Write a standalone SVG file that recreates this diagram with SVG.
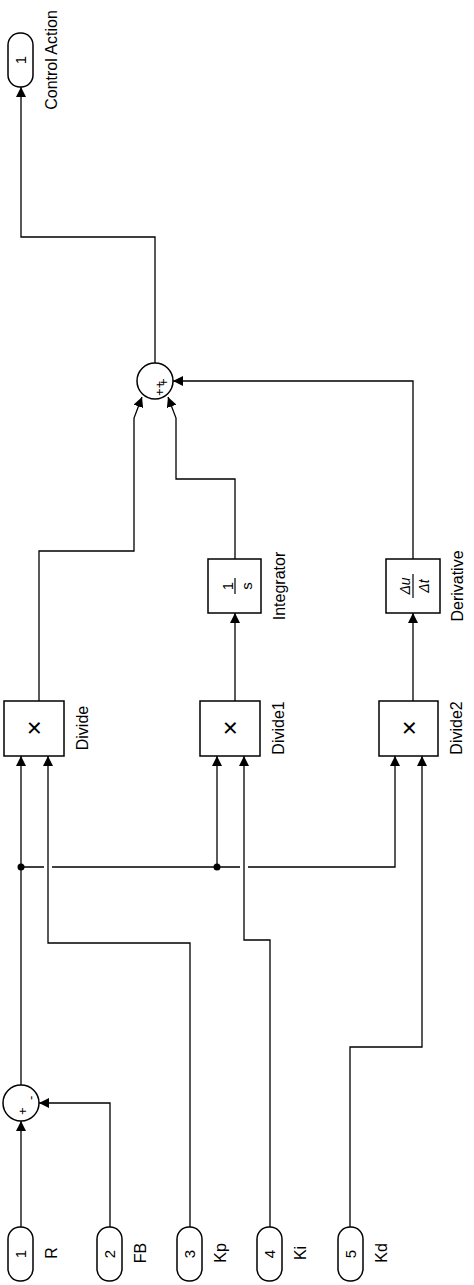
<svg xmlns="http://www.w3.org/2000/svg" width="474" height="1285" viewBox="0 0 474 1285">
<style>
.b{fill:#fff;stroke:#000;stroke-width:1.5}
.l{fill:none;stroke:#000;stroke-width:1.3}
text{font-family:"Liberation Sans",Arial,sans-serif;fill:#000}
.lb{font-size:16px;text-anchor:middle}
.n{font-size:15px;text-anchor:middle}
.x{font-size:26px;text-anchor:middle}
</style>
<defs>
<marker id="a" viewBox="0 0 10 10" refX="10" refY="5" markerWidth="10" markerHeight="10" markerUnits="userSpaceOnUse" orient="auto"><path d="M0,0L10,5L0,10z" fill="#000"/></marker>
</defs>
<rect width="474" height="1285" fill="#fff"/>
<g id="connectors" class="l">
<path d="M21,1227V1121" marker-end="url(#a)"/>
<path d="M110,1227V1103H39" marker-end="url(#a)"/>
<path d="M21,1085V756" marker-end="url(#a)"/>
<path d="M21,867H44M52,867H240M248,867H395V756" marker-end="url(#a)"/>
<path d="M217,867V756" marker-end="url(#a)"/>
<path d="M190,1227V943H48V756" marker-end="url(#a)"/>
<path d="M270,1227V940H244V756" marker-end="url(#a)"/>
<path d="M350,1227V1047H422V756" marker-end="url(#a)"/>
<path d="M235,701V613" marker-end="url(#a)"/>
<path d="M413,701V613" marker-end="url(#a)"/>
<path d="M39,701V551H134V418L142,397" marker-end="url(#a)"/>
<path d="M235,559V479H176V418L168,397" marker-end="url(#a)"/>
<path d="M413,559V381H173" marker-end="url(#a)"/>
<path d="M155,363V237H21V87" marker-end="url(#a)"/>
</g>
<g id="dots"><circle cx="21" cy="867" r="3.5"/><circle cx="217" cy="867" r="3.5"/></g>
<g id="in1"><rect class="b" x="8" y="1227" width="25" height="54" rx="12"/><text class="n" transform="translate(26,1254) rotate(-90)">1</text><text class="lb" transform="translate(57,1253) rotate(-90)">R</text></g>
<g id="in2"><rect class="b" x="97" y="1227" width="25" height="54" rx="12"/><text class="n" transform="translate(115,1254) rotate(-90)">2</text><text class="lb" transform="translate(146,1253) rotate(-90)">FB</text></g>
<g id="in3"><rect class="b" x="177" y="1227" width="25" height="54" rx="12"/><text class="n" transform="translate(195,1254) rotate(-90)">3</text><text class="lb" transform="translate(226,1253) rotate(-90)">Kp</text></g>
<g id="in4"><rect class="b" x="257" y="1227" width="25" height="54" rx="12"/><text class="n" transform="translate(275,1254) rotate(-90)">4</text><text class="lb" transform="translate(306,1253) rotate(-90)">Ki</text></g>
<g id="in5"><rect class="b" x="338" y="1227" width="25" height="54" rx="12"/><text class="n" transform="translate(356,1254) rotate(-90)">5</text><text class="lb" transform="translate(387,1253) rotate(-90)">Kd</text></g>
<g id="sum1"><circle class="b" cx="21" cy="1103" r="18"/><text font-size="13" transform="translate(27,1115) rotate(-90)">+</text><text font-size="13" transform="translate(35,1100) rotate(-90)">-</text></g>
<g id="divide"><rect class="b" x="4" y="701" width="60" height="55"/><text class="x" transform="translate(43,728) rotate(-90)">×</text><text class="lb" transform="translate(88,728) rotate(-90)">Divide</text></g>
<g id="divide1"><rect class="b" x="200" y="701" width="60" height="55"/><text class="x" transform="translate(239,728) rotate(-90)">×</text><text class="lb" transform="translate(284,728) rotate(-90)">Divide1</text></g>
<g id="divide2"><rect class="b" x="379" y="701" width="59" height="55"/><text class="x" transform="translate(418,728) rotate(-90)">×</text><text class="lb" transform="translate(462,728) rotate(-90)">Divide2</text></g>
<g id="integrator"><rect class="b" x="208" y="559" width="53" height="54"/><text font-size="15" text-anchor="middle" transform="translate(233,586) rotate(-90)">1</text><line x1="235" y1="578" x2="235" y2="594" stroke="#000" stroke-width="1.2"/><text font-size="15" text-anchor="middle" transform="translate(252,586) rotate(-90)">s</text><text class="lb" transform="translate(285,586) rotate(-90)">Integrator</text></g>
<g id="derivative"><rect class="b" x="386" y="559" width="54" height="54"/><text font-size="14" font-style="italic" text-anchor="middle" transform="translate(410,586) rotate(-90)">Δu</text><line x1="413" y1="574" x2="413" y2="598" stroke="#000" stroke-width="1.2"/><text font-size="14" font-style="italic" text-anchor="middle" transform="translate(429,586) rotate(-90)">Δt</text><text class="lb" transform="translate(463,586) rotate(-90)">Derivative</text></g>
<g id="sum2"><circle class="b" cx="155" cy="381" r="18"/><text font-size="13" transform="translate(164,396) rotate(-90)">++</text><text font-size="13" transform="translate(168,386) rotate(-90)">+</text></g>
<g id="out1"><rect class="b" x="8" y="33" width="25" height="54" rx="12"/><text class="n" transform="translate(26,60) rotate(-90)">1</text><text class="lb" transform="translate(57,60) rotate(-90)">Control Action</text></g>
</svg>
